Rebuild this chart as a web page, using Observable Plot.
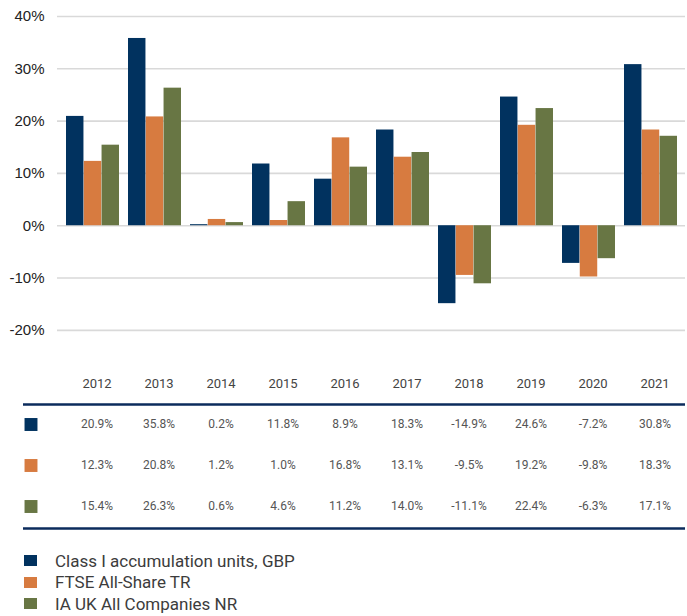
<!DOCTYPE html>
<html><head><meta charset="utf-8">
<script src="https://cdn.jsdelivr.net/npm/d3@7"></script>
<script src="https://cdn.jsdelivr.net/npm/@observablehq/plot@0.6"></script>
<style>
body{margin:0;background:#fff;}
#chart{width:687px;}
.legend{margin:18px 0 0 24px;font-family:Roboto,sans-serif;font-size:17px;color:#3c3c3c;}
.legend div{display:flex;align-items:center;height:21.5px;}
.legend .sw{width:13px;height:11px;margin-right:18px;display:inline-block;}
</style></head><body><div id="chart"></div>
<script>
const years = [2012, 2013, 2014, 2015, 2016, 2017, 2018, 2019, 2020, 2021];
const seriesNames = ["Class I accumulation units, GBP", "FTSE All-Share TR", "IA UK All Companies NR"];
const classI = [20.9, 35.8, 0.2, 11.8, 8.9, 18.3, -14.9, 24.6, -7.2, 30.8];
const ftse = [12.3, 20.8, 1.2, 1.0, 16.8, 13.1, -9.5, 19.2, -9.8, 18.3];
const ia = [15.4, 26.3, 0.6, 4.6, 11.2, 14.0, -11.1, 22.4, -6.3, 17.1];
const colors = ["#01325f", "#d77b40", "#687644"];
const yTicks = [-20, -10, 0, 10, 20, 30, 40];

const W = 687, ML = 57, MR = 2, PI = 0.15, PO = 0.08;
const step = (W - ML - MR) / (years.length - PI + 2 * PO);
const bw = step * (1 - PI);
const barW = bw / 3;
const seriesVals = [classI, ftse, ia];
const yearStr = years.map(String);

const bars = seriesVals.map((vals, i) =>
  Plot.barY(years.map((y, j) => ({year: String(y), value: vals[j]})), {
    x: "year", y: "value", fill: colors[i],
    insetLeft: i * barW, insetRight: (2 - i) * barW
  })
);

const chart = Plot.plot({
  width: W, height: 362, marginTop: 16, marginBottom: 6, marginLeft: ML, marginRight: MR,
  style: {background: "#fff", fontFamily: "'Liberation Sans', Arial, sans-serif", fontSize: "15px", color: "#222", overflow: "visible"},
  x: {type: "band", domain: yearStr, paddingInner: PI, paddingOuter: PO, axis: null},
  y: {domain: [-25, 40], ticks: yTicks, tickFormat: d => d + "%", tickSize: 0, tickPadding: 13, label: null},
  marks: [
    Plot.ruleY(yTicks, {stroke: "#d9d9d9", strokeWidth: 1.6}),
    ...bars
  ]
});

const rows = ["year", "s0", "s1", "s2"];
const cols = ["sw", ...yearStr];
const headerCells = yearStr.map(y => ({col: y, row: "year", text: y}));
const valueCells = [];
seriesVals.forEach((vals, i) => vals.forEach((v, j) => valueCells.push({col: yearStr[j], row: "s" + i, text: v.toFixed(1) + "%"})));
const swatches = colors.map((c, i) => ({col: "sw", row: "s" + i, color: c}));

const table = Plot.plot({
  width: W, height: 170, marginTop: 20, marginBottom: 26, marginLeft: 23, marginRight: MR,
  style: {background: "#fff", fontFamily: "Roboto, sans-serif", overflow: "visible"},
  x: {type: "band", domain: cols, range: [ML + 4.5 - step, W - MR + 4.5], paddingInner: PI, paddingOuter: PO, axis: null},
  y: {type: "point", domain: rows, padding: 0, axis: null},
  color: {type: "identity"},
  marks: [
    Plot.ruleY(["year"], {dy: 21, stroke: "#0b2b5c", strokeWidth: 2.6}),
    Plot.ruleY(["s2"], {dy: 22, stroke: "#0b2b5c", strokeWidth: 2.6}),
    Plot.text(headerCells, {x: "col", y: "row", text: "text", fontSize: 13, fill: "#444"}),
    Plot.text(valueCells, {x: "col", y: "row", text: "text", fontSize: 12, fill: "#555", letterSpacing: "-0.2px"}),
    Plot.dot(swatches, {x: "col", y: "row", dx: -4, symbol: "square", r: 7.3, fill: "color"})
  ]
});

const root = document.getElementById("chart");
root.appendChild(chart);
root.appendChild(table);
const legend = document.createElement("div");
legend.className = "legend";
seriesNames.forEach((n, i) => {
  const item = document.createElement("div");
  const sw = document.createElement("span");
  sw.className = "sw"; sw.style.background = colors[i];
  item.appendChild(sw);
  item.appendChild(document.createTextNode(n));
  legend.appendChild(item);
});
root.appendChild(legend);
</script></body></html>
